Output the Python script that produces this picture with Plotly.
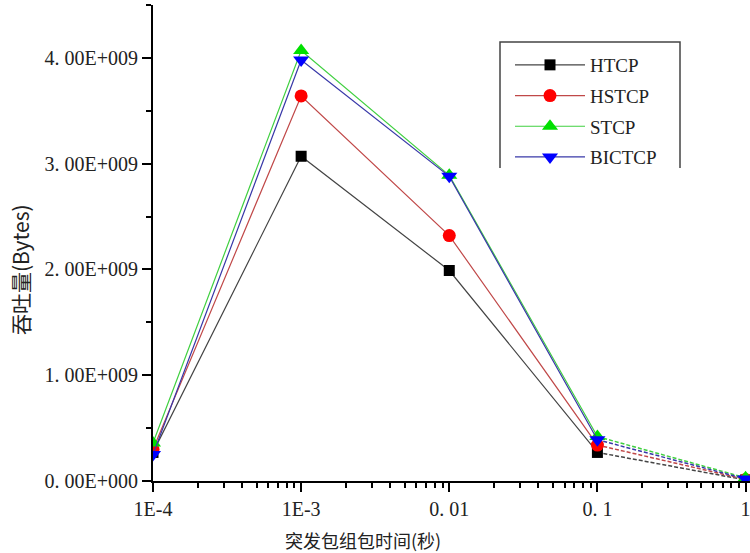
import plotly.graph_objects as go

x_vals = [1e-4, 1e-3, 1e-2, 1e-1, 1.0]
x_labels = ["1E-4", "1E-3", "0. 01", "0. 1", "1"]
y_ticks = [0, 1e9, 2e9, 3e9, 4e9]
y_labels = ["0. 00E+000", "1. 00E+009", "2. 00E+009", "3. 00E+009", "4. 00E+009"]

htcp = [0.27e9, 3.07e9, 1.99e9, 0.27e9, 0.01e9]
hstcp = [0.30e9, 3.64e9, 2.32e9, 0.34e9, 0.015e9]
stcp = [0.36e9, 4.07e9, 2.89e9, 0.42e9, 0.03e9]
bictcp = [0.25e9, 3.98e9, 2.88e9, 0.39e9, 0.02e9]

series = [
    ("HTCP", htcp, "#000000", "#444444", "square", 11),
    ("HSTCP", hstcp, "#ff0000", "#c04848", "circle", 13),
    ("STCP", stcp, "#00e000", "#40d040", "triangle-up", 14),
    ("BICTCP", bictcp, "#0000ff", "#3838a8", "triangle-down", 14),
]

SERIF = "Liberation Serif"

fig = go.Figure()
for name, ys, mcol, lcol, sym, sz in series:
    fig.add_trace(go.Scatter(
        x=x_vals[3:], y=ys[3:], mode="lines",
        line=dict(color=lcol, width=1.5, dash="4px,2px"),
        showlegend=False, hoverinfo="skip"))
for name, ys, mcol, lcol, sym, sz in series:
    fig.add_trace(go.Scatter(
        x=x_vals[:4], y=ys[:4], mode="lines+markers", name=name,
        legendgroup=name,
        line=dict(color=lcol, width=1.2),
        marker=dict(symbol=sym, size=sz, color=mcol, line=dict(width=0))))
    fig.add_trace(go.Scatter(
        x=x_vals[4:], y=ys[4:], mode="markers", showlegend=False,
        legendgroup=name,
        marker=dict(symbol=sym, size=sz, color=mcol, line=dict(width=0))))

W, H = 750, 553
ml, mr, mt, mb = 153, 0, 5, 72
pw, ph = W - ml - mr, H - mt - mb

def px(xp):
    return (xp - ml) / pw
def py(yp):
    return 1 - (yp - mt) / ph

minor_x = []
for d in [1e-4, 1e-3, 1e-2, 1e-1]:
    for k in range(2, 10):
        minor_x.append(d * k)

fig.update_layout(
    width=W, height=H,
    margin=dict(l=ml, r=mr, t=mt, b=mb),
    paper_bgcolor="white", plot_bgcolor="white",
    font=dict(family=SERIF, color="black", size=17),
    xaxis=dict(
        type="log", range=[-4, 0.03],
        tickmode="array", tickvals=x_vals, ticktext=x_labels,
        ticks="outside", ticklen=9, tickwidth=2, tickcolor="black",
        showline=True, linecolor="black", linewidth=2,
        showgrid=False, zeroline=False, ticklabeloverflow="allow",
        tickfont=dict(family=SERIF, size=20, color="#222"),
        minor=dict(tickmode="array", tickvals=minor_x, ticks="outside",
                   ticklen=5, tickwidth=1.5, tickcolor="black", showgrid=False),
    ),
    yaxis=dict(
        range=[0, 4.5e9],
        tickmode="array", tickvals=y_ticks, ticktext=y_labels,
        ticks="outside", ticklen=9, tickwidth=2, tickcolor="black",
        showline=True, linecolor="black", linewidth=2,
        showgrid=False, zeroline=False, ticklabeloverflow="allow",
        tickfont=dict(family=SERIF, size=20, color="#222"),
        minor=dict(tickmode="array", tickvals=[0.5e9, 1.5e9, 2.5e9, 3.5e9, 4.5e9],
                   ticks="outside", ticklen=5, tickwidth=1.5, tickcolor="black",
                   showgrid=False),
    ),
    legend=dict(
        x=px(510), y=py(46), xanchor="left", yanchor="top",
        bgcolor="rgba(0,0,0,0)", borderwidth=0,
        font=dict(family=SERIF, size=19, color="#222"),
        itemwidth=70, tracegroupgap=3,
    ),
    showlegend=True,
)

fig.add_shape(type="path", xref="paper", yref="paper",
              path=f"M {px(500)},{py(168)} L {px(500)},{py(42)} L {px(680)},{py(42)} L {px(680)},{py(168)}",
              line=dict(color="#444444", width=1.5))

fig.add_annotation(text="突发包组包时间(秒)", xref="paper", yref="paper",
                   x=px(363), y=py(540), showarrow=False,
                   font=dict(family="Noto Sans CJK SC", size=18, color="#222"),
                   xanchor="center", yanchor="middle")
fig.add_annotation(text="吞吐量(Bytes)", xref="paper", yref="paper",
                   x=px(20), y=py(270), showarrow=False, textangle=-90,
                   font=dict(family="Noto Sans CJK SC", size=21, color="#222"),
                   xanchor="center", yanchor="middle")

fig.write_html("out.html")
